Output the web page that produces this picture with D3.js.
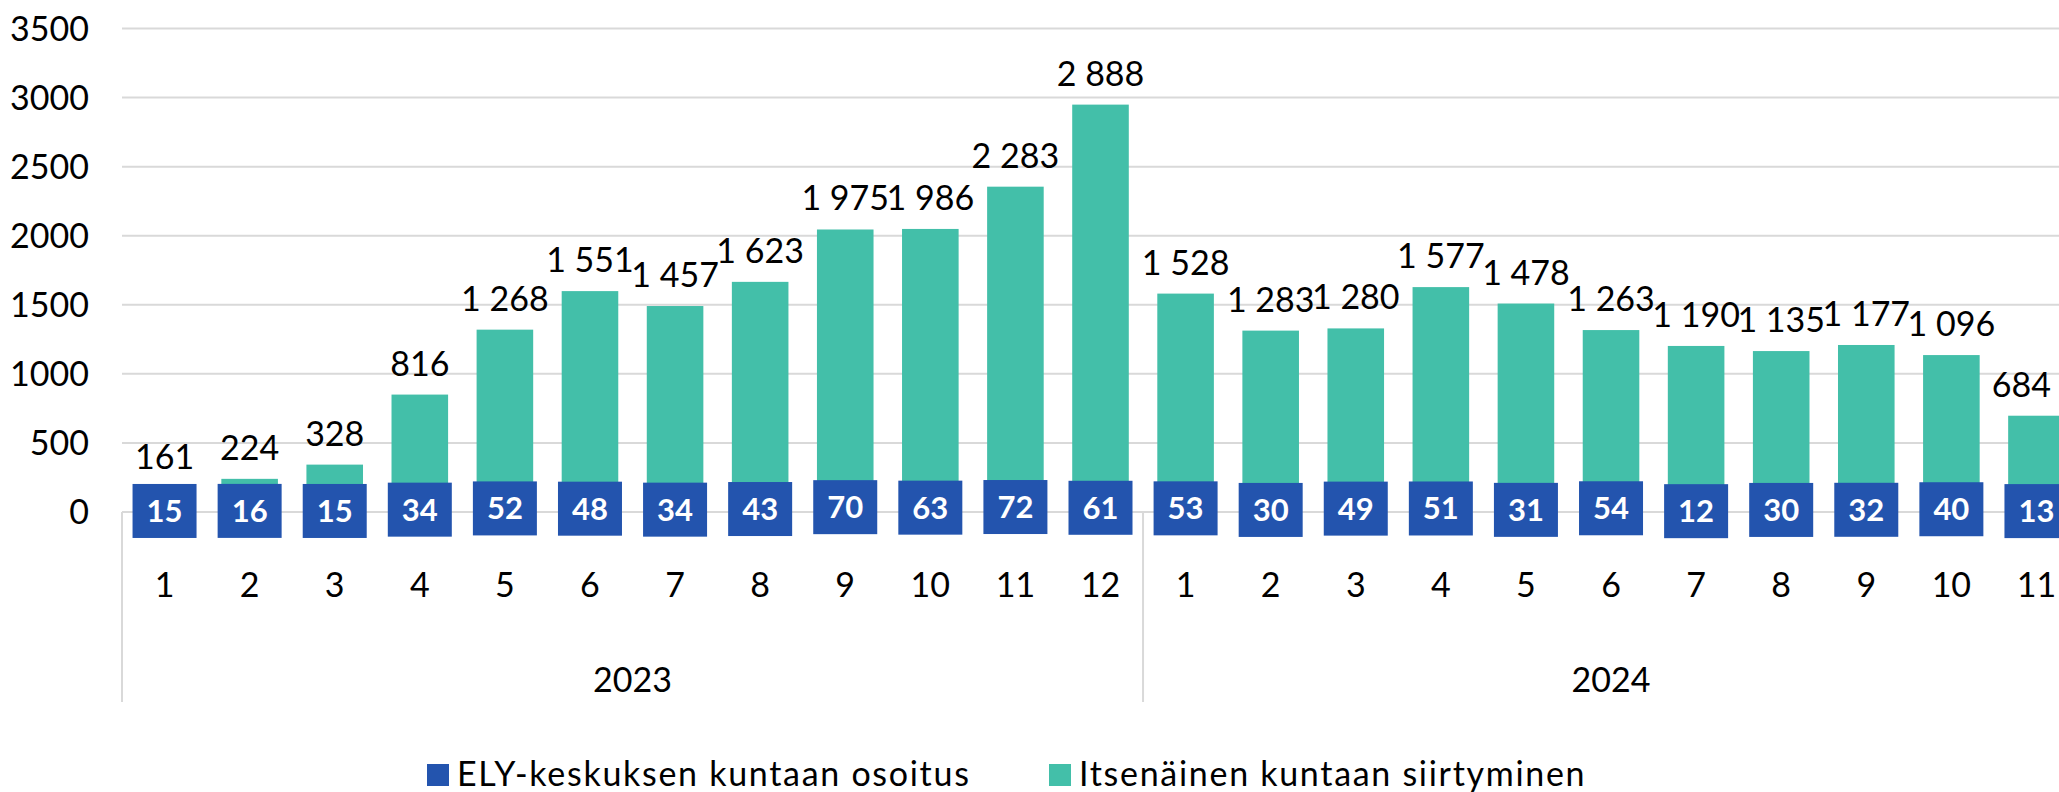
<!DOCTYPE html>
<html>
<head>
<meta charset="utf-8">
<script src="https://cdn.jsdelivr.net/npm/d3@7"></script>
<style>
  body { margin: 0; background: #fff; }
  text { font-family: Lato, "Noto Sans", sans-serif; }
</style>
</head>
<body>
<script>
// Data
const years = ['2023', '2024'];
const months2023 = ['1', '2', '3', '4', '5', '6', '7', '8', '9', '10', '11', '12'];
const months2024 = ['1', '2', '3', '4', '5', '6', '7', '8', '9', '10', '11'];
const ely2023 = [15, 16, 15, 34, 52, 48, 34, 43, 70, 63, 72, 61];
const ely2024 = [53, 30, 49, 51, 31, 54, 12, 30, 32, 40, 13];
const itse2023 = [161, 224, 328, 816, 1268, 1551, 1457, 1623, 1975, 1986, 2283, 2888];
const itse2024 = [1528, 1283, 1280, 1577, 1478, 1263, 1190, 1135, 1177, 1096, 684];
const yTicks = [0, 500, 1000, 1500, 2000, 2500, 3000, 3500];
const seriesNames = ['ELY-keskuksen kuntaan osoitus', 'Itsenäinen kuntaan siirtyminen'];
const colors = ['#2354ae', '#43bfa9'];

const width = 2059;
const height = 792;
const plot = { left: 122, right: 2079, top: 28.5, bottom: 512 };

// Build rows
const rows = [];
[[months2023, ely2023, itse2023], [months2024, ely2024, itse2024]].forEach(([ms, ely, itse], yi) => {
    ms.forEach((m, i) => {
        rows.push({ key: years[yi] + '-' + m, year: years[yi], month: m, ely: ely[i], itse: itse[i] });
    });
});

const fmt = d3.formatLocale({ decimal: ',', thousands: '\u00a0', grouping: [3], currency: ['', ''] }).format(',');

const svg = d3.select('body').append('svg')
    .attr('width', width)
    .attr('height', height);

const x = d3.scaleBand()
    .domain(rows.map(d => d.key))
    .range([plot.left, plot.right])
    .paddingInner(0.335)
    .paddingOuter(0.1675);

const y = d3.scaleLinear()
    .domain([0, 3500])
    .range([plot.bottom, plot.top]);

// Gridlines
svg.append('g')
    .selectAll('line')
    .data(yTicks)
    .enter().append('line')
    .attr('x1', plot.left)
    .attr('x2', width)
    .attr('y1', d => y(d))
    .attr('y2', d => y(d))
    .attr('stroke', '#d9d9d9')
    .attr('stroke-width', 2);

// Y axis labels
svg.append('g')
    .selectAll('text')
    .data(yTicks)
    .enter().append('text')
    .attr('x', 89)
    .attr('y', d => y(d) + 12)
    .attr('text-anchor', 'end')
    .attr('font-size', 34)
    .attr('fill', '#000')
    .text(d => d);

// Group separators on category axis (edges of each year's slots)
const sepX = [plot.left];
years.forEach(yr => {
    const keys = rows.filter(d => d.year === yr).map(d => d.key);
    const last = keys[keys.length - 1];
    sepX.push(x(last) + x.bandwidth() / 2 + x.step() / 2);
});
svg.append('g')
    .selectAll('line')
    .data(sepX)
    .enter().append('line')
    .attr('x1', d => d)
    .attr('x2', d => d)
    .attr('y1', plot.bottom)
    .attr('y2', 702)
    .attr('stroke', '#d9d9d9')
    .attr('stroke-width', 2);

// Stacked bars
const bars = svg.append('g');
bars.selectAll('rect.ely')
    .data(rows)
    .enter().append('rect')
    .attr('class', 'ely')
    .attr('x', d => x(d.key))
    .attr('width', x.bandwidth())
    .attr('y', d => y(d.ely))
    .attr('height', d => y(0) - y(d.ely))
    .attr('fill', colors[0]);

bars.selectAll('rect.itse')
    .data(rows)
    .enter().append('rect')
    .attr('class', 'itse')
    .attr('x', d => x(d.key))
    .attr('width', x.bandwidth())
    .attr('y', d => y(d.ely + d.itse))
    .attr('height', d => y(d.ely) - y(d.ely + d.itse))
    .attr('fill', colors[1]);

// Teal labels above the stack (kept inside the picture)
svg.append('g')
    .selectAll('text')
    .data(rows)
    .enter().append('text')
    .attr('y', d => y(d.ely + d.itse) - 19)
    .attr('text-anchor', 'middle')
    .attr('font-size', 34)
    .attr('fill', '#000')
    .text(d => fmt(d.itse))
    .attr('x', function(d) {
        const w = this.getComputedTextLength();
        const cx = x(d.key) + x.bandwidth() / 2;
        return Math.min(cx, width - 8 - w / 2);
    });

// Blue labels as filled boxes
const boxes = svg.append('g')
    .selectAll('g')
    .data(rows)
    .enter().append('g')
    .attr('transform', d => `translate(${x(d.key) + x.bandwidth() / 2},${(y(0) + y(d.ely)) / 2})`);

boxes.append('rect')
    .attr('x', -32)
    .attr('y', -27)
    .attr('width', 64)
    .attr('height', 54)
    .attr('fill', colors[0]);

boxes.append('text')
    .attr('y', 11)
    .attr('text-anchor', 'middle')
    .attr('font-size', 31)
    .attr('font-weight', 'bold')
    .attr('fill', '#fff')
    .text(d => d.ely);

// Month labels
svg.append('g')
    .selectAll('text')
    .data(rows)
    .enter().append('text')
    .attr('x', d => x(d.key) + x.bandwidth() / 2)
    .attr('y', 597)
    .attr('text-anchor', 'middle')
    .attr('font-size', 34)
    .attr('fill', '#000')
    .text(d => d.month);

// Year labels
svg.append('g')
    .selectAll('text')
    .data(years)
    .enter().append('text')
    .attr('x', (d, i) => (sepX[i] + sepX[i + 1]) / 2)
    .attr('y', 692)
    .attr('text-anchor', 'middle')
    .attr('font-size', 34)
    .attr('fill', '#000')
    .text(d => d);

// Legend
const legendX = [427, 1049];
const legend = svg.append('g')
    .selectAll('g')
    .data(seriesNames)
    .enter().append('g')
    .attr('transform', (d, i) => `translate(${legendX[i]},764)`);

legend.append('rect')
    .attr('width', 22)
    .attr('height', 22)
    .attr('fill', (d, i) => colors[i]);

legend.append('text')
    .attr('x', 30)
    .attr('y', 22)
    .attr('font-size', 34)
    .attr('letter-spacing', 1.7)
    .attr('fill', '#000')
    .text(d => d);
</script>
</body>
</html>
